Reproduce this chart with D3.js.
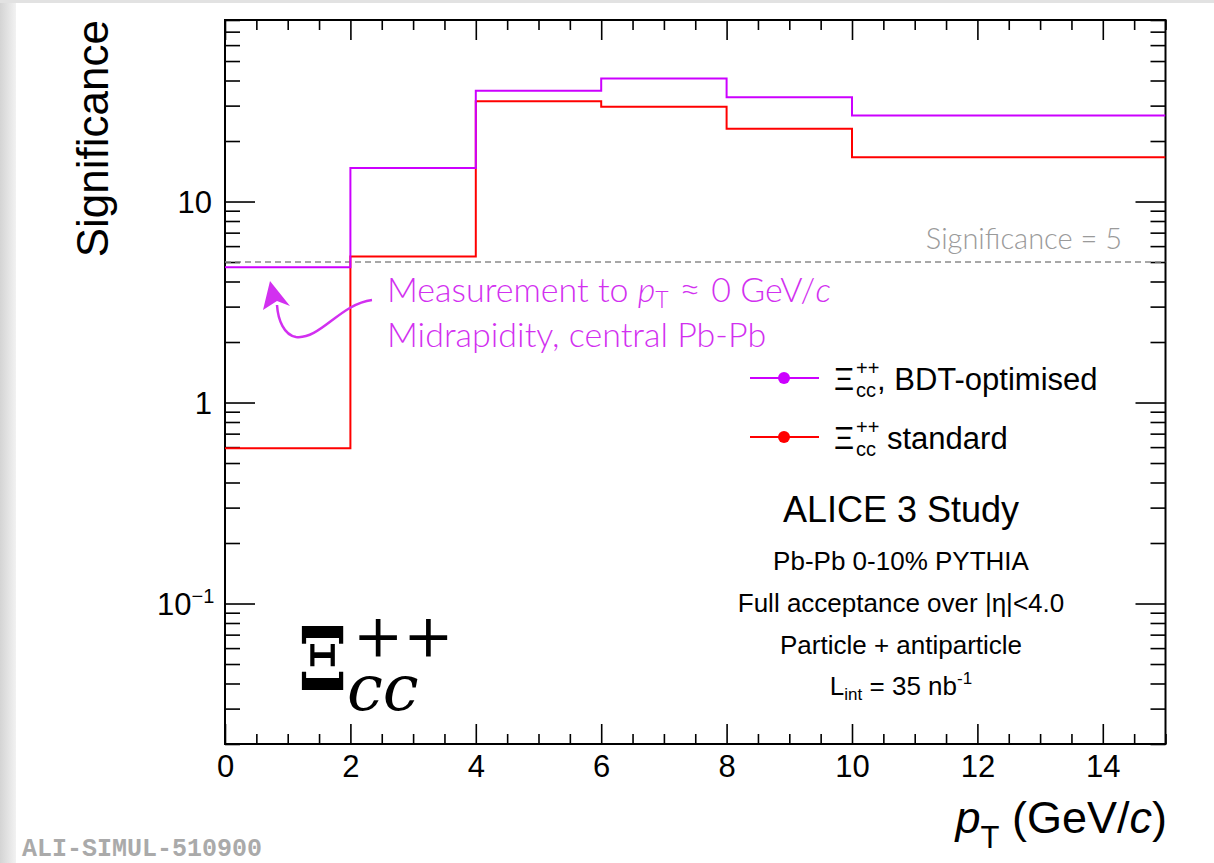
<!DOCTYPE html>
<html>
<head>
<meta charset="utf-8">
<script src="https://cdn.jsdelivr.net/npm/d3@7"></script>
<style>
  html, body { margin: 0; padding: 0; background: #fff; }
  svg { display: block; }
</style>
</head>
<body>
<svg id="chart" width="1214" height="863"></svg>
<script>
// pT bin edges (GeV/c) and significance per bin
const binEdges = [0, 2, 4, 6, 8, 10, 15];
const bdtSignificance = [4.71, 14.7, 35.6, 40.9, 33.0, 26.8];
const stdSignificance = [0.593, 5.33, 31.5, 29.6, 23.0, 16.6];
const threshold = 5;

const xTickValues = [0, 2, 4, 6, 8, 10, 12, 14];
const yMajorTicks = [0.1, 1, 10];
const yTickLabels = ["10", "1", "10"];

const W = 1214, H = 863;
const margin = { left: 225, top: 20, right: 1165.5, bottom: 744 };

const svg = d3.select("#chart");

// page frame: grey edges around the white sheet
const defs = svg.append("defs");
const grad = defs.append("linearGradient").attr("id", "edge").attr("x1", 0).attr("x2", 1);
grad.append("stop").attr("offset", 0).attr("stop-color", "#d4d4d4");
grad.append("stop").attr("offset", 0.6).attr("stop-color", "#e6e6e6");
grad.append("stop").attr("offset", 1).attr("stop-color", "#f2f2f2");
svg.append("rect").attr("x", 0).attr("y", 0).attr("width", W).attr("height", H).attr("fill", "#fff");
svg.append("rect").attr("x", 0).attr("y", 0).attr("width", 16).attr("height", H).attr("fill", "url(#edge)");
svg.append("rect").attr("x", 0).attr("y", 0).attr("width", W).attr("height", 3).attr("fill", "#e2e2e2");

const x = d3.scaleLinear().domain([0, 15]).range([margin.left, margin.right]);
const y = d3.scaleLog().domain([0.02, 80]).range([margin.bottom, margin.top]);

const sans = "'Liberation Sans', Arial, Helvetica, sans-serif";
const light = "Lato, 'Open Sans', sans-serif";

// minor tick positions
const xMinor = d3.range(0, 15.01, 0.5).filter(v => v % 2 !== 0);
const yMinor = [];
[0.01, 0.1, 1, 10].forEach(d => { for (let k = 2; k <= 9; k++) { const v = d * k; if (v >= 0.02 && v <= 80 && !yMajorTicks.includes(v)) yMinor.push(v); } });

function styleAxis(g) {
  g.select(".domain").remove();
  g.selectAll("line").attr("stroke", "#000").attr("stroke-width", 1.6);
  g.selectAll("text").attr("font-family", sans).attr("font-size", 31).attr("fill", "#000");
}

// bottom axis (labels) and top axis (ticks only)
svg.append("g").attr("transform", `translate(0,${margin.bottom})`)
  .call(d3.axisBottom(x).tickValues(xTickValues).tickSize(-20).tickPadding(10).tickFormat(d3.format("d")))
  .call(styleAxis)
  .selectAll("text").attr("dy", "0.71em").attr("y", 11);
svg.append("g").attr("transform", `translate(0,${margin.bottom})`)
  .call(d3.axisBottom(x).tickValues(xMinor).tickSize(-10).tickFormat("")).call(styleAxis);
svg.append("g").attr("transform", `translate(0,${margin.top})`)
  .call(d3.axisTop(x).tickValues(xTickValues).tickSize(-20).tickFormat("")).call(styleAxis);
svg.append("g").attr("transform", `translate(0,${margin.top})`)
  .call(d3.axisTop(x).tickValues(xMinor).tickSize(-10).tickFormat("")).call(styleAxis);

// left axis with decade labels, right axis ticks only
svg.append("g").attr("transform", `translate(${margin.left},0)`)
  .call(d3.axisLeft(y).tickValues(yMajorTicks).tickSize(-30).tickFormat("")).call(styleAxis);
svg.append("g").attr("transform", `translate(${margin.left},0)`)
  .call(d3.axisLeft(y).tickValues(yMinor).tickSize(-15).tickFormat("")).call(styleAxis);
svg.append("g").attr("transform", `translate(${margin.right},0)`)
  .call(d3.axisRight(y).tickValues(yMajorTicks).tickSize(-30).tickFormat("")).call(styleAxis);
svg.append("g").attr("transform", `translate(${margin.right},0)`)
  .call(d3.axisRight(y).tickValues(yMinor).tickSize(-15).tickFormat("")).call(styleAxis);

// decade labels
yMajorTicks.forEach((v, i) => {
  const t = svg.append("text").attr("font-family", sans).attr("font-size", 31).attr("fill", "#000")
    .attr("y", y(v) + 11);
  if (v === 0.1) {
    t.attr("x", 157);
    t.append("tspan").text(yTickLabels[i]);
    t.append("tspan").attr("font-size", 20).attr("dy", -12).text("\u22121");
  } else {
    t.attr("text-anchor", "end").attr("x", 212).text(yTickLabels[i]);
  }
});

// frame
svg.append("rect").attr("x", margin.left).attr("y", margin.top)
  .attr("width", margin.right - margin.left).attr("height", margin.bottom - margin.top)
  .attr("fill", "none").attr("stroke", "#000").attr("stroke-width", 2);

// clip for histogram lines
defs.append("clipPath").attr("id", "plotArea").append("rect")
  .attr("x", margin.left).attr("y", margin.top)
  .attr("width", margin.right - margin.left).attr("height", margin.bottom - margin.top);

const plot = svg.append("g").attr("clip-path", "url(#plotArea)");

// threshold line
plot.append("line").attr("x1", x(0)).attr("x2", x(15)).attr("y1", y(threshold)).attr("y2", y(threshold))
  .attr("stroke", "#8a8a8a").attr("stroke-width", 1.5).attr("stroke-dasharray", "6,4");

function histPoints(vals) {
  const pts = vals.map((v, i) => [binEdges[i], v]);
  pts.push([binEdges[binEdges.length - 1], vals[vals.length - 1]]);
  return pts;
}
const step = d3.line().x(d => x(d[0])).y(d => y(d[1])).curve(d3.curveStepAfter);

plot.append("path").attr("d", step(histPoints(stdSignificance)))
  .attr("fill", "none").attr("stroke", "#ff0000").attr("stroke-width", 2);
plot.append("path").attr("d", step(histPoints(bdtSignificance)))
  .attr("fill", "none").attr("stroke", "#cc00ff").attr("stroke-width", 2);

// threshold label
svg.append("text").attr("font-family", light).attr("font-weight", 300).attr("font-size", 29)
  .attr("fill", "#9a9a9a").attr("text-anchor", "end").attr("x", 1122).attr("y", 249)
  .text("Significance = 5");

// annotation
const annColor = "#d230f0";
const ann1 = svg.append("text").attr("font-family", light).attr("font-weight", 300).attr("font-size", 34)
  .attr("fill", annColor).attr("x", 387).attr("y", 302);
ann1.append("tspan").text("Measurement to ");
ann1.append("tspan").attr("font-style", "italic").text("p");
ann1.append("tspan").attr("font-size", 23).attr("dy", 6).text("T");
ann1.append("tspan").attr("dy", -6).attr("font-size", 38).text(" \u2248 ");
ann1.append("tspan").text("0 GeV/");
ann1.append("tspan").attr("font-style", "italic").text("c");
svg.append("text").attr("font-family", light).attr("font-weight", 300).attr("font-size", 34)
  .attr("fill", annColor).attr("x", 387).attr("y", 347).text("Midrapidity, central Pb-Pb");

svg.append("path").attr("d", "M372,300 C340,304 320,340 296,337 C284,335 278,320 277,305")
  .attr("fill", "none").attr("stroke", annColor).attr("stroke-width", 2.5);
svg.append("path").attr("d", "M270,281 L263,310 L277,301 L290,306 Z").attr("fill", annColor);

// legend
const legendRows = [
  { color: "#cc00ff", y: 378, text: ", BDT-optimised", tx: 877 },
  { color: "#ff0000", y: 437, text: "standard", tx: 887 }
];
legendRows.forEach(r => {
  svg.append("line").attr("x1", 750).attr("x2", 819).attr("y1", r.y).attr("y2", r.y)
    .attr("stroke", r.color).attr("stroke-width", 2);
  svg.append("circle").attr("cx", 784).attr("cy", r.y).attr("r", 6).attr("fill", r.color);
  const t = svg.append("text").attr("font-family", sans).attr("font-size", 31).attr("x", 834).attr("y", r.y + 12);
  t.append("tspan").text("\u039E");
  t.append("tspan").attr("font-size", 20).attr("x", 856).attr("y", r.y - 3).text("++");
  t.append("tspan").attr("font-size", 20).attr("x", 856).attr("y", r.y + 19).text("cc");
  t.append("tspan").attr("x", r.tx).attr("y", r.y + 12).text(r.text);
});

// study labels
const infoX = 901;
svg.append("text").attr("font-family", sans).attr("font-size", 36).attr("text-anchor", "middle")
  .attr("x", infoX).attr("y", 522).text("ALICE 3 Study");
const infoLines = ["Pb-Pb 0-10% PYTHIA", "Full acceptance over |\u03B7|<4.0", "Particle + antiparticle"];
infoLines.forEach((s, i) => {
  svg.append("text").attr("font-family", sans).attr("font-size", 26).attr("text-anchor", "middle")
    .attr("x", infoX).attr("y", 570 + i * 42).text(s);
});
const lint = svg.append("text").attr("font-family", sans).attr("font-size", 26).attr("text-anchor", "middle")
  .attr("x", infoX).attr("y", 695);
lint.append("tspan").text("L");
lint.append("tspan").attr("font-size", 17).attr("dy", 5).text("int");
lint.append("tspan").attr("dy", -5).text(" = 35 nb");
lint.append("tspan").attr("font-size", 17).attr("dy", -11).text("-1");

// axis titles
svg.append("text").attr("font-family", sans).attr("font-size", 44).attr("text-anchor", "end")
  .attr("transform", "translate(108,20) rotate(-90)").text("Significance");
const xt = svg.append("text").attr("font-family", sans).attr("font-size", 45).attr("text-anchor", "end")
  .attr("x", 1167).attr("y", 833);
xt.append("tspan").attr("font-style", "italic").text("p");
xt.append("tspan").attr("font-size", 31).attr("dy", 15).text("T");
xt.append("tspan").attr("dy", -15).text(" (GeV/");
xt.append("tspan").attr("font-style", "italic").text("c");
xt.append("tspan").text(")");

// particle symbol: the Xi glyph is narrowed a little, charge and quark content beside it
const serif = "'DejaVu Serif', 'Liberation Serif', serif";
svg.append("text").attr("font-family", serif).attr("font-weight", "bold").attr("font-size", 88)
  .attr("transform", "translate(298,690) scale(0.8,1)").text("\u039E");
const sym = svg.append("text").attr("font-family", serif).attr("font-size", 60)
  .attr("transform", "translate(297,690)");
sym.append("tspan").attr("x", 56).attr("y", -34).text("++");
sym.append("tspan").attr("font-size", 64).attr("font-style", "italic").attr("x", 50).attr("y", 20).text("cc");

// plot id
svg.append("text").attr("font-family", "'Liberation Mono', 'Courier New', monospace").attr("font-weight", "bold")
  .attr("font-size", 25).attr("fill", "#aaaaaa").attr("x", 22).attr("y", 856).text("ALI-SIMUL-510900");
</script>
</body>
</html>
